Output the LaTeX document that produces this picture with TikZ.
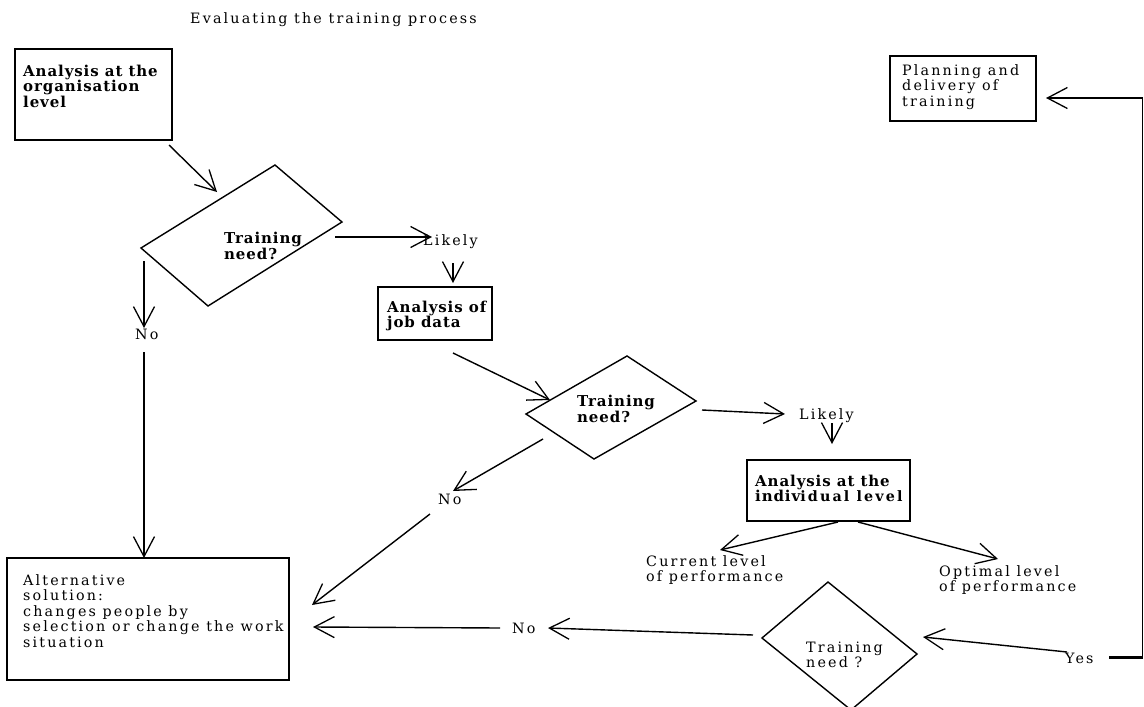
\documentclass[tikz,border=0pt]{standalone}
\usepackage{fontspec}
\usetikzlibrary{arrows.meta,calc}
\newfontfamily\rfont{DejaVu Serif}[LetterSpace=15]
\newfontfamily\bfont{DejaVu Serif}[LetterSpace=6]
\newcommand\myreg{\rfont\fontsize{14.3}{15.5}\selectfont}
\newcommand\mybold{\bfont\bfseries\fontsize{15}{14}\selectfont}
\tikzset{
  boxnode/.style={draw, line width=1.5pt, inner sep=0pt},
  rtxt/.style={inner sep=0pt, anchor=north west, align=left, font=\myreg},
  btxt/.style={inner sep=0pt, anchor=north west, align=left, font=\mybold},
  lozenge/.style={draw, line width=1.4pt, line join=miter},
  arr/.style={line width=1.4pt, -{Straight Barb[length=20pt,width=21pt,line width=1.3pt]}},
  plain/.style={line width=1.4pt}
}
\begin{document}
\begin{tikzpicture}[x=1pt,y=-1pt]
\useasboundingbox (0,0) rectangle (1144,707);
% title
\node[rtxt] (title) at (190,12.3) {Evaluating the training process};
% boxes
\node[boxnode, minimum width=157pt, minimum height=91pt] (orgbox) at (93.5,94.5) {};
\node[btxt] (orgtext) at (23,64.6) {Analysis at the\\organisation\\level};
\node[boxnode, minimum width=114pt, minimum height=53pt] (jobbox) at (435,313.5) {};
\node[btxt] (jobtext) at (387,300.6) {Analysis of\\job data};
\node[boxnode, minimum width=163pt, minimum height=61pt] (indbox) at (828.5,490.5) {};
\node[btxt] (indtext) at (755,474.6) {Analysis at the\\indiv{\myreg idual level}};
\node[boxnode, minimum width=146pt, minimum height=65pt] (planbox) at (963,88.5) {};
\node[rtxt] (plantext) at (902,64.3) {Planning and\\delivery of\\training};
\node[boxnode, minimum width=282pt, minimum height=122pt] (altbox) at (148,619) {};
\node[rtxt] (alttext) at (23,574.3) {Alternative\\solution:\\changes people by\\selection or change the work\\situation};
% diamonds
\coordinate (d1L) at (141,248); \coordinate (d1T) at (275,165);
\coordinate (d1R) at (342,222); \coordinate (d1B) at (208,306);
\draw[lozenge] (d1L) -- (d1T) -- (d1R) -- (d1B) -- cycle;
\node[btxt] (d1text) at (224,232) {Training\\need?};
\coordinate (d2L) at (526,414); \coordinate (d2T) at (627,356);
\coordinate (d2R) at (696,401); \coordinate (d2B) at (594,459);
\draw[lozenge] (d2L) -- (d2T) -- (d2R) -- (d2B) -- cycle;
\node[btxt] (d2text) at (577,395) {Training\\need?};
\coordinate (d3L) at (762,638); \coordinate (d3T) at (828,582);
\coordinate (d3R) at (917,654); \coordinate (d3B) at (851,710);
\draw[lozenge] (d3L) -- (d3T) -- (d3R) -- (d3B) -- cycle;
\node[rtxt] (d3text) at (806,641.3) {Training\\need ?};
% labels
\node[rtxt] (likely1) at (423,234.3) {Likely};
\node[rtxt] (likely2) at (799,408.3) {Likely};
\node[rtxt] (current) at (646,555.3) {Current level\\of performance};
\node[rtxt] (optimal) at (939,565.3) {Optimal level\\of performance};
\node[rtxt] (yes) at (1065,652.7) {Yes};
\node[rtxt] (no1) at (135,328.7) {No};
\node[rtxt] (no2) at (438,493.7) {No};
\node[rtxt] (no3) at (512,622.7) {No};
% connector end points
\coordinate (a1s) at (169,145); \coordinate (a1e) at (217,192);
\coordinate (a2s) at (335,237); \coordinate (a2e) at (432,237);
\coordinate (a3s) at (453,263); \coordinate (a3e) at (453,283);
\coordinate (a4s) at (453,353); \coordinate (a4e) at (550,400);
\coordinate (a5s) at (702,410); \coordinate (a5e) at (785,414);
\coordinate (a6s) at (832,423); \coordinate (a6e) at (832,444);
\coordinate (a7s) at (838,522); \coordinate (a7e) at (720,550);
\coordinate (a8s) at (858,522); \coordinate (a8e) at (998,559);
\coordinate (a9s) at (1067,652); \coordinate (a9e) at (923,637);
\coordinate (ysA) at (1109,657); \coordinate (ysB) at (1142.6,657);
\coordinate (ysC) at (1142.6,98); \coordinate (ysD) at (1046,98);
\coordinate (a11s) at (753,635); \coordinate (a11e) at (548,628);
\coordinate (a12s) at (500,628); \coordinate (a12e) at (313,627);
\coordinate (a13s) at (543,439); \coordinate (a13e) at (453,491);
\coordinate (a14s) at (430,514); \coordinate (a14e) at (312,605);
\coordinate (a15s) at (144,261); \coordinate (a15e) at (144,328);
\coordinate (a16s) at (144,352); \coordinate (a16e) at (144,558);
% connectors
\draw[arr] (a1s) -- (a1e);
\draw[arr] (a2s) -- (a2e);
\draw[arr] (a3s) -- (a3e);
\draw[arr] (a4s) -- (a4e);
\draw[arr] (a5s) -- (a5e);
\draw[arr] (a6s) -- (a6e);
\draw[arr] (a7s) -- (a7e);
\draw[arr] (a8s) -- (a8e);
\draw[arr] (a9s) -- (a9e);
\draw[line width=3pt] (ysA) -- (ysB);
\draw[arr, line join=miter] (ysB) -- (ysC) -- (ysD);
\draw[arr] (a11s) -- (a11e);
\draw[arr] (a12s) -- (a12e);
\draw[arr] (a13s) -- (a13e);
\draw[arr] (a14s) -- (a14e);
\draw[arr] (a15s) -- (a15e);
\draw[arr] (a16s) -- (a16e);
\end{tikzpicture}
\end{document}
